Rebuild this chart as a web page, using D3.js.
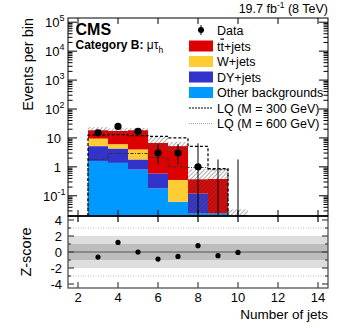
<!DOCTYPE html>
<html lang="en">
<head>
  <meta charset="utf-8">
  <title>lq njets category B</title>
  <style>
    body { margin: 0; background: #fff; }
    svg { font-family: "Liberation Sans", Arial, sans-serif; }
  </style>
</head>
<body>
  <svg id="chart" width="349" height="328"></svg>

  <script src="https://cdn.jsdelivr.net/npm/d3@7"></script>
  <script>

// bins are one jet wide, centred on the jet count
let bins      = [3, 4, 5, 6, 7, 8, 9, 10]
let other     = [1.6, 1.37, 0.81, 0.18, 0.062, 0.025, 0.025, 0]
let dyjets    = [3.6, 2.93, 0.99, 0.41, 0, 0.095, 0, 0]
let wjets     = [4.3, 1.8, 2.2, 0, 0.29, 0, 0, 0]
let ttjets    = [8.9, 11.3, 14.4, 6.1, 4.85, 0.25, 0.355, 0]
let uncLo     = [14, 13.5, 14, 4, 3.2, 0.001, 0.001, 0.001]
let uncHi     = [23.5, 21.5, 22, 10.8, 7.3, 0.85, 0.88, 0.034]
let lq300     = [12.5, 13, 12, 11.4, 10, 5.1, 0.87, 0.001]
let lq600     = [1.8, 2.9, 2.9, 2.1, 1.0, 0.95, 0.8, 0.001]
let dataN     = [15, 25, 17, 3, 3, 1, 0, 0]
let dataLo    = [11, 20, 13, 1.2, 1.2, 0.001, 0.001, 0.001]
let dataHi    = [19.5, 30, 21.5, 6, 6.1, 6.5, 1.8, 1.8]
let zscore    = [-0.63, 1.2, 0.0, -0.88, -0.55, 0.79, -0.46, -0.05]

let xTicks    = [2, 4, 6, 8, 10, 12, 14]
let yDecades  = [-1, 0, 1, 2, 3, 4, 5]
let zTicks    = [4, 2, 0, -2, -4]

let components = [
  {name: "Other backgrounds", values: other,  color: "#0099ff"},
  {name: "DY+jets",           values: dyjets, color: "#3333cc"},
  {name: "W+jets",            values: wjets,  color: "#ffcc33"},
  {name: "tt+jets",           values: ttjets, color: "#dd0000"}
]

let L = 68, R = 328, T = 18, M = 216, B = 288

let x  = d3.scaleLinear().domain([1.5, 14.5]).range([L, R])
let y  = d3.scaleLog().domain([0.02, 1.4e5]).range([M, T]).clamp(true)
let yz = d3.scaleLinear().domain([-4.5, 4.5]).range([B, M])

let svg = d3.select("#chart")

let defs = svg.append("defs")
defs.append("clipPath").attr("id", "top")
  .append("rect").attr("x", L).attr("y", T).attr("width", R-L).attr("height", M-T)

let hatch = defs.append("pattern").attr("id", "hatch")
  .attr("patternUnits", "userSpaceOnUse").attr("width", 3).attr("height", 3)
  .attr("patternTransform", "rotate(45)")
hatch.append("line").attr("x1", 0.5).attr("y1", 0).attr("x2", 0.5).attr("y2", 3)
  .attr("stroke", "#555").attr("stroke-width", 0.9).attr("stroke-opacity", 0.55)

let plot = svg.append("g").attr("clip-path", "url(#top)")

// stacked backgrounds
let base = bins.map(() => 0)
components.forEach(function(c) {
  let rows = bins.map(function(b, i) {
    let lo = base[i], hi = base[i] + c.values[i]
    base[i] = hi
    return {b: b, lo: lo, hi: hi}
  }).filter(d => d.hi > d.lo)
  plot.selectAll(null).data(rows).enter().append("rect")
    .attr("x", d => x(d.b - 0.5))
    .attr("width", d => x(d.b + 0.5) - x(d.b - 0.5))
    .attr("y", d => y(d.hi))
    .attr("height", d => y(Math.max(d.lo, 0.001)) - y(d.hi))
    .attr("fill", c.color)
})

// uncertainty band
plot.selectAll(null).data(bins).enter().append("rect")
  .attr("x", d => x(d - 0.5))
  .attr("width", d => x(d + 0.5) - x(d - 0.5))
  .attr("y", (d, i) => y(uncHi[i]))
  .attr("height", (d, i) => y(uncLo[i]) - y(uncHi[i]))
  .attr("fill", "url(#hatch)")

function stepPath(vals) {
  let pts = [[x(bins[0] - 0.5), y(0.001)]]
  bins.forEach(function(b, i) {
    pts.push([x(b - 0.5), y(vals[i])])
    pts.push([x(b + 0.5), y(vals[i])])
  })
  pts.push([x(bins[bins.length-1] + 0.5), y(0.001)])
  return d3.line()(pts)
}

plot.append("path").attr("d", stepPath(lq600))
  .attr("fill", "none").attr("stroke", "#333").attr("stroke-width", 1)
  .attr("stroke-dasharray", "3,1.5,1,1.5")
plot.append("path").attr("d", stepPath(lq300))
  .attr("fill", "none").attr("stroke", "#000").attr("stroke-width", 1.2)
  .attr("stroke-dasharray", "3,2")

// data
plot.selectAll(null).data(bins).enter().append("line")
  .attr("x1", d => x(d)).attr("x2", d => x(d))
  .attr("y1", (d, i) => y(dataLo[i])).attr("y2", (d, i) => y(dataHi[i]))
  .attr("stroke", "#000").attr("stroke-width", 1)
plot.selectAll(null).data(bins.filter((d, i) => dataN[i] > 0)).enter().append("circle")
  .attr("cx", d => x(d))
  .attr("cy", d => y(dataN[bins.indexOf(d)]))
  .attr("r", 3.6).attr("fill", "#000")

// top panel axes
let ax = svg.append("g").attr("stroke", "#000").attr("stroke-width", 1)
ax.append("rect").attr("x", L).attr("y", T).attr("width", R-L).attr("height", M-T)
  .attr("fill", "none")

xTicks.forEach(function(t) {
  ax.append("line").attr("x1", x(t)).attr("x2", x(t)).attr("y1", M).attr("y2", M-6)
  ax.append("line").attr("x1", x(t)).attr("x2", x(t)).attr("y1", T).attr("y2", T+6)
})

let logTicks = []
for (let e = -2; e <= 5; e++) {
  for (let m = 1; m < 10; m++) {
    let v = m * Math.pow(10, e)
    if (v >= 0.02 && v <= 1.4e5) logTicks.push({v: v, major: m == 1})
  }
}
logTicks.forEach(function(t) {
  let len = t.major ? 9 : 4.5
  ax.append("line").attr("x1", L).attr("x2", L+len).attr("y1", y(t.v)).attr("y2", y(t.v))
  ax.append("line").attr("x1", R).attr("x2", R-len).attr("y1", y(t.v)).attr("y2", y(t.v))
})

let ylab = svg.append("g").attr("font-size", 13).attr("text-anchor", "end")
yDecades.forEach(function(e) {
  let t = ylab.append("text").attr("x", e < 0 ? 63 : (e < 2 ? 61 : 57)).attr("y", y(Math.pow(10, e)) + 5)
  if (e == 0) t.text("1")
  else if (e == 1) t.text("10")
  else {
    t.attr("text-anchor", "start").attr("x", e < 0 ? 43 : 45)
    t.append("tspan").text("10")
    t.append("tspan").attr("font-size", 9).attr("dy", -6).text(e)
  }
})

// bottom panel
let zp = svg.append("g")
zp.append("rect").attr("x", L).attr("y", yz(2)).attr("width", R-L).attr("height", yz(-2)-yz(2))
  .attr("fill", "#dedede")
zp.append("rect").attr("x", L).attr("y", yz(1)).attr("width", R-L).attr("height", yz(-1)-yz(1))
  .attr("fill", "#bdbdbd")
;[3, -3].forEach(function(v) {
  zp.append("line").attr("x1", L).attr("x2", R).attr("y1", yz(v)).attr("y2", yz(v))
    .attr("stroke", "#bbb").attr("stroke-dasharray", "1,1.5")
})
zp.append("line").attr("x1", L).attr("x2", R).attr("y1", yz(0)).attr("y2", yz(0))
  .attr("stroke", "#555").attr("stroke-width", 1)
zp.selectAll(null).data(bins).enter().append("circle")
  .attr("cx", d => x(d)).attr("cy", (d, i) => yz(zscore[i]))
  .attr("r", 2.6).attr("fill", "#000")

let zax = svg.append("g").attr("stroke", "#444").attr("stroke-width", 1.2)
zax.append("rect").attr("x", L).attr("y", M).attr("width", R-L).attr("height", B-M)
  .attr("fill", "none")
xTicks.forEach(function(t) {
  zax.append("line").attr("x1", x(t)).attr("x2", x(t)).attr("y1", B).attr("y2", B-6)
  zax.append("line").attr("x1", x(t)).attr("x2", x(t)).attr("y1", M).attr("y2", M+6).attr("stroke", "#000")
})
d3.range(-4, 5).forEach(function(v) {
  let len = v % 2 == 0 ? 6 : 3
  zax.append("line").attr("x1", L).attr("x2", L+len).attr("y1", yz(v)).attr("y2", yz(v))
  zax.append("line").attr("x1", R).attr("x2", R-len).attr("y1", yz(v)).attr("y2", yz(v))
})
svg.append("line").attr("x1", L).attr("x2", R).attr("y1", M).attr("y2", M)
  .attr("stroke", "#000").attr("stroke-width", 1.3)

svg.append("g").attr("font-size", 13).attr("text-anchor", "end")
  .selectAll(null).data(zTicks).enter().append("text")
  .attr("x", 62).attr("y", d => yz(d) + 5).text(d => d)

svg.append("g").attr("font-size", 13).attr("text-anchor", "middle")
  .selectAll(null).data(xTicks).enter().append("text")
  .attr("x", d => x(d)).attr("y", 302).text(d => d)

// titles
svg.append("text").attr("transform", "translate(33,18) rotate(-90)")
  .attr("text-anchor", "end").attr("font-size", 14.5).text("Events per bin")
svg.append("text").attr("transform", "translate(31," + yz(0) + ") rotate(-90)")
  .attr("text-anchor", "middle").attr("font-size", 14.5).text("Z-score")
svg.append("text").attr("x", 328).attr("y", 319).attr("text-anchor", "end")
  .attr("font-size", 13.5).text("Number of jets")

let lumi = svg.append("text").attr("x", 328).attr("y", 13).attr("text-anchor", "end").attr("font-size", 12.5)
lumi.append("tspan").text("19.7 fb")
lumi.append("tspan").attr("font-size", 8.5).attr("dy", -5).text("-1")
lumi.append("tspan").attr("dy", 5).text(" (8 TeV)")

svg.append("text").attr("x", 75.5).attr("y", 35).attr("font-size", 16).attr("font-weight", "bold").text("CMS")
let cat = svg.append("text").attr("x", 75.5).attr("y", 49).attr("font-size", 12)
cat.append("tspan").attr("font-weight", "bold").text("Category B: ")
cat.append("tspan").text("\u03bc\u03c4")
cat.append("tspan").attr("font-size", 8.5).attr("dy", 4).text("h")

// legend
let lg = svg.append("g").attr("font-size", 12.5)
let rowY = [30, 46, 61.5, 77, 92.5, 108, 123.5]
let sx = 189, sw = 24, tx = 217

lg.append("line").attr("x1", sx + sw/2).attr("x2", sx + sw/2).attr("y1", rowY[0]-5).attr("y2", rowY[0]+5)
  .attr("stroke", "#000")
lg.append("circle").attr("cx", sx + sw/2).attr("cy", rowY[0]).attr("r", 3).attr("fill", "#000")
lg.append("text").attr("x", tx).attr("y", rowY[0] + 4.5).text("Data")

components.slice().reverse().forEach(function(c, i) {
  let yy = rowY[i + 1]
  lg.append("rect").attr("x", sx).attr("y", yy - 5.5).attr("width", sw).attr("height", 11).attr("fill", c.color)
  let t = lg.append("text").attr("x", tx).attr("y", yy + 4.5)
  if (c.name == "tt+jets") {
    t.append("tspan").text("t")
    t.append("tspan").attr("text-decoration", "overline").text("t")
    t.append("tspan").text("+jets")
  } else t.text(c.name)
})

lg.append("line").attr("x1", sx).attr("x2", sx + sw).attr("y1", rowY[5]).attr("y2", rowY[5])
  .attr("stroke", "#000").attr("stroke-dasharray", "2,1")
lg.append("text").attr("x", tx).attr("y", rowY[5] + 4.5).text("LQ (M = 300 GeV)")
lg.append("line").attr("x1", sx).attr("x2", sx + sw).attr("y1", rowY[6]).attr("y2", rowY[6])
  .attr("stroke", "#aaa").attr("stroke-dasharray", "1,1")
lg.append("text").attr("x", tx).attr("y", rowY[6] + 4.5).text("LQ (M = 600 GeV)")

  </script>
</body>
</html>
